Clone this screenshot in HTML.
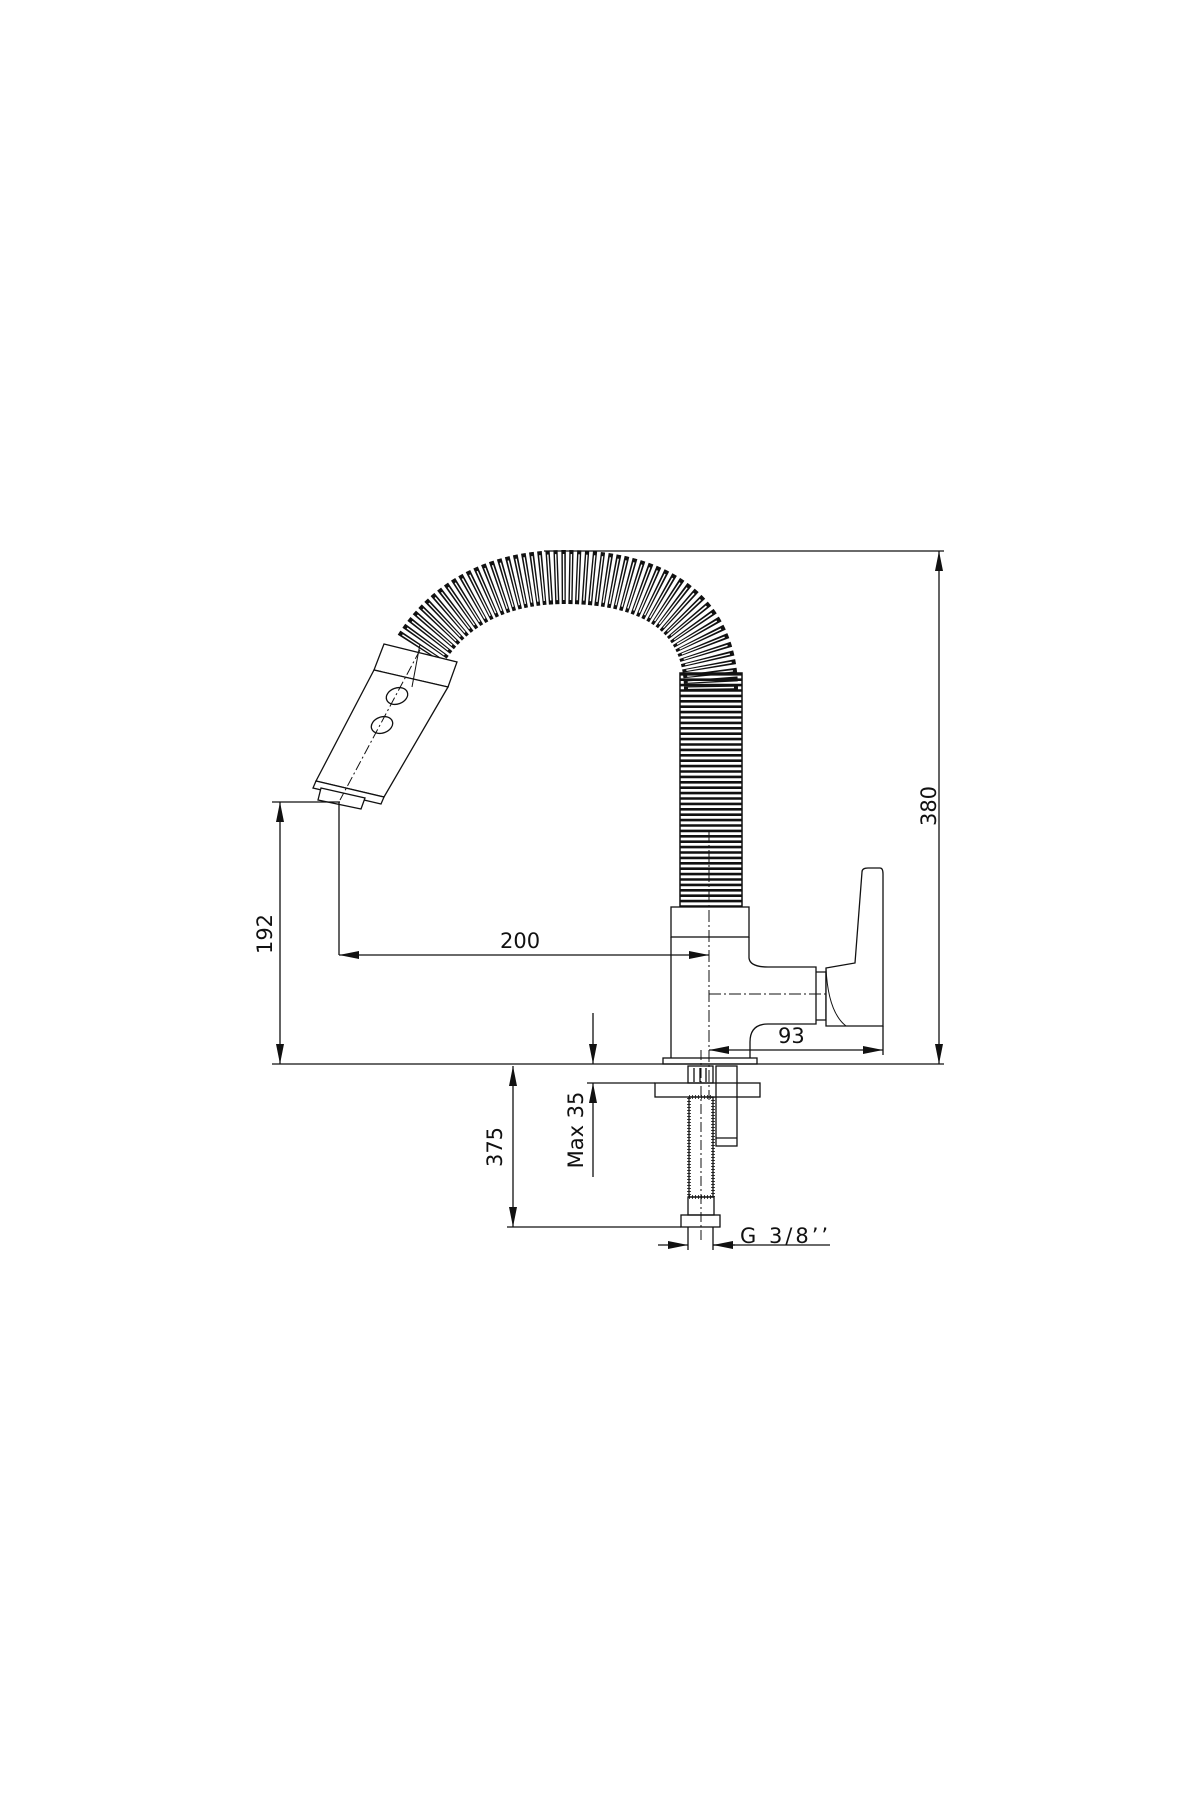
<!DOCTYPE html>
<html><head><meta charset="utf-8"><style>
html,body{margin:0;padding:0;background:#fff;}
svg{display:block;}
text{font-family:"DejaVu Sans","Liberation Sans",sans-serif;fill:#111;}
</style></head><body>
<svg width="1200" height="1800" viewBox="0 0 1200 1800" xmlns="http://www.w3.org/2000/svg">
<defs>
<marker id="a" viewBox="0 0 20 8" refX="20" refY="4" markerWidth="20" markerHeight="8" markerUnits="userSpaceOnUse" orient="auto-start-reverse"><path d="M0,0 L20,4 L0,8 z" fill="#111"/></marker>
</defs>
<g stroke="#111" fill="none" stroke-width="1.3">
<!-- spring arc -->
<path d="M711,690 C711,610 650,577 565,577 C490,577 445,610 420,650" stroke-width="54" stroke-dasharray="4.2 3"/>
<path d="M711,690 C711,610 650,577 565,577 C490,577 445,610 420,650" stroke="#fff" stroke-width="46" stroke-dasharray="1.4 5.8" stroke-dashoffset="-1.4"/>
<!-- spring vertical -->
<line x1="711" y1="673" x2="711" y2="907" stroke-width="62" stroke-dasharray="2.6 2.8"/>
<rect x="680" y="673" width="62" height="234" stroke-width="1.5"/>
<!-- head -->
<polygon points="384,644 457,662 448,687 374,670" fill="#fff"/>
<polygon points="374,670 448,687 384,797 316,781" fill="#fff"/>
<polygon points="316,781 384,797 381,804 313,788" fill="#fff"/>
<polygon points="321,788 365,798 361,809 318,800" fill="#fff"/>
<ellipse cx="397" cy="696" rx="11" ry="8" transform="rotate(-20 397 696)"/>
<ellipse cx="382" cy="725" rx="11" ry="8" transform="rotate(-20 382 725)"/>
<line x1="420" y1="650" x2="340" y2="800" stroke-dasharray="10 3 2 3" stroke-width="1"/>
<line x1="420" y1="644" x2="412" y2="687" stroke-width="1"/>
<!-- body -->
<rect x="671" y="907" width="78" height="30" fill="#fff"/>
<path d="M671,937 L671,1058 M749,937 L749,958 Q750,967 768,967 L816,967 L816,1024 L768,1024 Q750,1024 750,1042 L750,1058" />
<rect x="663" y="1058" width="94" height="6"/>
<line x1="709" y1="830" x2="709" y2="1100" stroke-dasharray="12 3 2 3" stroke-width="1"/>
<line x1="709" y1="994" x2="883" y2="994" stroke-dasharray="12 3 2 3" stroke-width="1"/>
<!-- handle -->
<path d="M816,972 L826,972 L826,1020 L816,1020"/>
<path d="M826,968 L855,963 L862,872 Q862,868 868,868 L880,868 Q883,868 883,874 L883,1026 L826,1026 Z" fill="#fff"/>
<path d="M826,968 Q828,1012 846,1026" stroke-width="1"/>
<!-- under sink -->
<rect x="688" y="1066" width="25" height="17"/>
<line x1="694" y1="1068" x2="694" y2="1082"/><line x1="700" y1="1068" x2="700" y2="1082"/><line x1="706" y1="1068" x2="706" y2="1082"/>
<rect x="716" y="1066" width="21" height="80"/>
<line x1="716" y1="1138" x2="737" y2="1138"/>
<rect x="655" y="1083" width="105" height="14"/>
<rect x="689" y="1097" width="24" height="100" stroke-width="4" stroke-dasharray="1 2" stroke="#444"/>
<rect x="689" y="1097" width="24" height="100"/>
<rect x="688" y="1197" width="26" height="18"/>
<rect x="681" y="1215" width="39" height="12"/>
<line x1="701" y1="1050" x2="701" y2="1240" stroke-width="1" stroke-dasharray="10 3 2 3"/>
<!-- dimensions -->
<line x1="544" y1="551" x2="944" y2="551"/>
<line x1="939" y1="551" x2="939" y2="1064" marker-start="url(#a)" marker-end="url(#a)"/>
<line x1="272" y1="1064" x2="944" y2="1064"/>
<line x1="272" y1="802" x2="340" y2="802"/>
<line x1="280" y1="802" x2="280" y2="1064" marker-start="url(#a)" marker-end="url(#a)"/>
<line x1="339" y1="802" x2="339" y2="955"/>
<line x1="339" y1="955" x2="709" y2="955" marker-start="url(#a)" marker-end="url(#a)"/>
<line x1="709" y1="1050" x2="883" y2="1050" marker-start="url(#a)" marker-end="url(#a)"/>
<line x1="883" y1="1026" x2="883" y2="1055"/>
<line x1="593" y1="1013" x2="593" y2="1064" marker-end="url(#a)"/>
<line x1="593" y1="1177" x2="593" y2="1083" marker-end="url(#a)"/>
<line x1="587" y1="1083" x2="655" y2="1083"/>
<line x1="513" y1="1066" x2="513" y2="1227" marker-start="url(#a)" marker-end="url(#a)"/>
<line x1="507" y1="1227" x2="681" y2="1227"/>
<line x1="688" y1="1227" x2="688" y2="1250"/><line x1="713" y1="1227" x2="713" y2="1250"/>
<line x1="658" y1="1245" x2="688" y2="1245" marker-end="url(#a)"/>
<line x1="735" y1="1245" x2="713" y2="1245" marker-end="url(#a)"/>
<line x1="713" y1="1245" x2="830" y2="1245"/>
</g>
<g font-size="21">
<text x="500" y="948">200</text>
<text x="778" y="1043">93</text>
<text x="740" y="1243" letter-spacing="3">G 3/8’’</text>
<text transform="translate(936,806) rotate(-90)" text-anchor="middle">380</text>
<text transform="translate(272,934) rotate(-90)" text-anchor="middle">192</text>
<text transform="translate(502,1147) rotate(-90)" text-anchor="middle">375</text>
<text transform="translate(583,1130) rotate(-90)" text-anchor="middle">Max 35</text>
</g>
</svg>
</body></html>
